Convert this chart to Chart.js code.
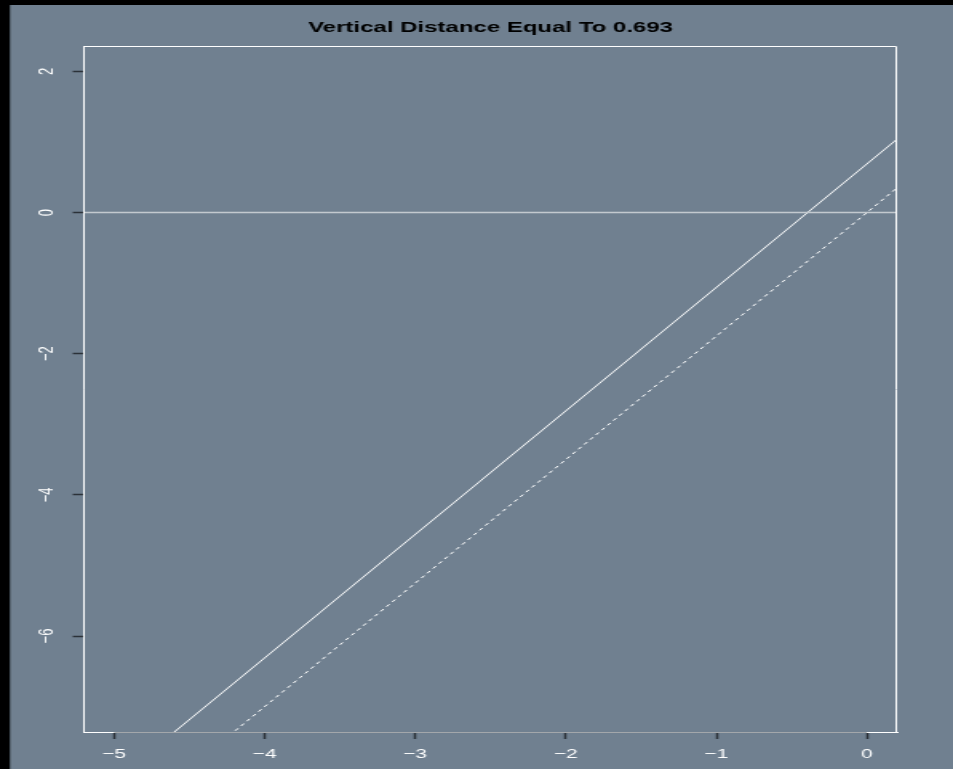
<!DOCTYPE html>
<html>
<head>
<meta charset="utf-8">
<script src="https://cdn.jsdelivr.net/npm/chart.js@4/dist/chart.umd.min.js"></script>
<style>
  html, body { margin: 0; padding: 0; background: #000; overflow: hidden; }
  /* the plot is drawn on a narrower canvas and widened to fill the window */
  #wrap { width: 596px; height: 769px; transform: scaleX(1.599); transform-origin: 0 0; }
  canvas { display: block; }
</style>
</head>
<body>
<div id="wrap"><canvas id="c" width="596" height="769"></canvas></div>
<script>
// Plot title and axis ticks
const titleText = 'Vertical Distance Equal To 0.693';
const xTicks = [-5, -4, -3, -2, -1, 0];
const yTicks = [-6, -4, -2, 0, 2];
const xRange = [-5.2, 0.2];
const yRange = [-7.36, 2.36];

// Reference lines, given by their ends at the plot's left and right edges
const lineX = [-5.2, 0.2];
const zeroY = [0, 0];
const solidY = [-8.41, 1.04];   // upper line, 0.693 above the dashed one
const dashedY = [-9.10, 0.35];

const FONT = 'Liberation Sans, Arial, Helvetica, sans-serif';
const minus = v => String(v).replace('-', '\u2212');
const pts = (xs, ys) => xs.map((x, i) => ({ x: x, y: ys[i] }));

// Window backdrop: dark frame with the slate-grey page
const backdrop = {
  id: 'backdrop',
  beforeDraw(chart) {
    const { ctx, width, height } = chart;
    ctx.save();
    ctx.fillStyle = '#000000';
    ctx.fillRect(0, 0, width, height);
    ctx.fillStyle = '#708090';
    ctx.fillRect(6.25, 5, width - 6.25, height - 5);
    ctx.restore();
  }
};

// Box around the plot region plus the grey x-axis line spanning the ticks
const frame = {
  id: 'frame',
  afterDatasetsDraw(chart) {
    const { ctx, chartArea: a, scales } = chart;
    const top = Math.round(a.top) + 0.5;
    const bottom = Math.round(a.bottom) + 0.5;
    const right = Math.round(a.right) - 0.5;
    ctx.save();
    ctx.strokeStyle = '#ffffff';
    ctx.lineWidth = 1;
    ctx.beginPath();
    ctx.moveTo(a.left, bottom);
    ctx.lineTo(a.left, top);
    ctx.lineTo(right, top);
    ctx.lineTo(right, bottom);
    ctx.stroke();
    const x0 = scales.x.getPixelForValue(xTicks[0]);
    const x1 = scales.x.getPixelForValue(xTicks[xTicks.length - 1]);
    ctx.strokeStyle = '#a3a7ab';
    ctx.beginPath();
    ctx.moveTo(x0, bottom);
    ctx.lineTo(x1, bottom);
    ctx.stroke();
    ctx.restore();
  }
};

new Chart(document.getElementById('c'), {
  type: 'scatter',
  data: {
    datasets: [
      {
        data: pts(lineX, zeroY),
        showLine: true,
        borderColor: '#c3c9cf',
        borderWidth: 1.5,
        pointRadius: 0
      },
      {
        data: pts(lineX, solidY),
        showLine: true,
        borderColor: '#ffffff',
        borderWidth: 1,
        pointRadius: 0
      },
      {
        data: pts(lineX, dashedY),
        showLine: true,
        borderColor: '#ffffff',
        borderWidth: 1,
        borderDash: [3, 3],
        pointRadius: 0
      }
    ]
  },
  options: {
    responsive: false,
    animation: false,
    devicePixelRatio: 1,
    layout: { padding: { left: 0, top: 0, right: 35, bottom: 0 } },
    plugins: {
      legend: { display: false },
      tooltip: { enabled: false },
      title: {
        display: true,
        fullSize: false,
        text: titleText,
        color: '#000000',
        font: { family: FONT, size: 15, weight: 'bold' },
        padding: { top: 19, bottom: 9 }
      }
    },
    scales: {
      x: {
        type: 'linear',
        position: 'bottom',
        min: xRange[0],
        max: xRange[1],
        afterBuildTicks: s => { s.ticks = xTicks.map(v => ({ value: v })); },
        afterFit: s => { s.height = 37; },
        ticks: {
          color: '#ffffff',
          font: { family: FONT, size: 13 },
          padding: 8,
          maxRotation: 0,
          autoSkip: false,
          callback: minus
        },
        grid: {
          drawOnChartArea: false,
          drawTicks: true,
          tickLength: 7,
          tickColor: '#2b3138',
          tickWidth: 1.5
        },
        border: { display: true, color: '#ffffff', width: 1 }
      },
      y: {
        type: 'linear',
        position: 'left',
        min: yRange[0],
        max: yRange[1],
        afterBuildTicks: s => { s.ticks = yTicks.map(v => ({ value: v })); },
        afterFit: s => { s.width = 52.5; },
        ticks: {
          color: '#ffffff',
          font: { family: FONT, size: 13 },
          padding: 8.5,
          minRotation: 90,
          maxRotation: 90,
          crossAlign: 'center',
          autoSkip: false,
          callback: minus
        },
        grid: {
          drawOnChartArea: false,
          drawTicks: true,
          tickLength: 7,
          tickColor: '#2b3138',
          tickWidth: 1.5
        },
        border: { display: true, color: '#ffffff', width: 1 }
      }
    }
  },
  plugins: [backdrop, frame]
});
</script>
</body>
</html>
